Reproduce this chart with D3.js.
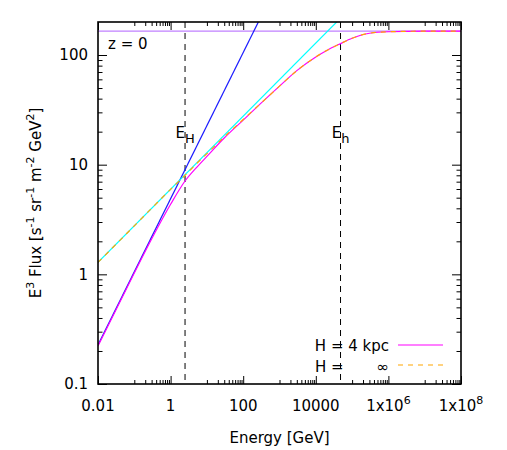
<!DOCTYPE html>
<html lang="en">
<head>
<meta charset="UTF-8">
<title>E3 Flux vs Energy</title>
<style>
  body { margin: 0; background: #fff; }
  svg { display: block; font-family: "DejaVu Sans", sans-serif; font-size: 15px; }
  .frame { fill: none; stroke: #000; stroke-width: 1.6; }
  .curve { fill: none; stroke-width: 1.2; }
  .tick line { stroke: #000; stroke-width: 1; }
</style>
</head>
<body>
<svg id="chart" width="507" height="450"></svg>
<script src="https://cdn.jsdelivr.net/npm/d3@7"></script>
<script>
// tick labels
const xTicks = [0.01, 1, 100, 10000, 1e6, 1e8]
const xTickLabels = ['0.01', '1', '100', '10000', '1x10^6', '1x10^8']
const yTicks = [0.1, 1, 10, 100]
const yTickLabels = ['0.1', '1', '10', '100']

// straight power laws (E^2/3 and E^1/3) and the flat level
const steepE = [0.01, 1000]
const steepFlux = [0.227, 489]
const shallowE = [0.01, 1e5]
const shallowFlux = [1.285, 277]
const flatE = [0.01, 1e8]
const flatFlux = [165, 165]

// H = 4 kpc and H = infinity curves
const energy = [0.01, 0.1, 0.3, 1, 2.5, 5, 10, 30, 100, 300, 1000, 3000, 1e4, 2e4, 4.8e4, 1e5, 3e5, 1e6, 1e7, 1e8]
const fluxH4 = [0.222, 1.03, 2.1, 4.35, 7.1, 9.3, 11.9, 17.5, 25.5, 36, 52, 72, 96, 110, 127, 142, 158, 163, 165, 165]
const fluxHinf = [1.285, 2.77, 4.0, 5.96, 8.0, 10.1, 12.6, 17.9, 25.8, 36, 52, 72, 96, 110, 127, 142, 158, 163, 165, 165]

// break energies
const breakE = [2.5, 4.8e4]
const breakSub = ['H', 'h']

const pl = 98, pr = 461, pt = 22, pb = 384
const svg = d3.select('#chart')

let x = d3.scaleLog().domain([0.01, 1e8]).range([pl, pr])
let y = d3.scaleLog().domain([0.1, 200]).range([pb, pt])

svg.append('defs').append('clipPath').attr('id', 'plot')
  .append('rect').attr('x', pl).attr('y', pt).attr('width', pr - pl).attr('height', pb - pt)

// minor ticks
let xMinor = []
for (let d of [0.1, 10, 1000, 1e5, 1e7]) for (let k = 1; k <= 9; k++) xMinor.push(k * d)
let yMinor = []
for (let d of [0.1, 1, 10, 100]) for (let k = 2; k <= 9; k++) if (k * d < 200) yMinor.push(k * d)

function ticks (axis, tx, ty, vals, size) {
  let g = svg.append('g').attr('transform', `translate(${tx},${ty})`)
    .call(axis.tickValues(vals).tickSize(size).tickFormat(''))
  g.select('.domain').remove()
  g.selectAll('text').remove()
}
ticks(d3.axisBottom(x), 0, pb, xTicks, -8)
ticks(d3.axisBottom(x), 0, pb, xMinor, -4)
ticks(d3.axisTop(x), 0, pt, xTicks, -8)
ticks(d3.axisTop(x), 0, pt, xMinor, -4)
ticks(d3.axisLeft(y), pl, 0, yTicks, -9)
ticks(d3.axisLeft(y), pl, 0, yMinor, -4.5)
ticks(d3.axisRight(y), pr, 0, yTicks, -9)
ticks(d3.axisRight(y), pr, 0, yMinor, -4.5)

// tick labels
function label (sel, txt) {
  let parts = txt.split('^')
  sel.append('tspan').text(parts[0])
  if (parts[1]) sel.append('tspan').attr('font-size', 11).attr('dy', -7).text(parts[1])
}
xTicks.forEach((v, i) => {
  let t = svg.append('text').attr('x', x(v)).attr('y', 411).attr('text-anchor', 'middle')
  label(t, xTickLabels[i])
})
yTicks.forEach((v, i) => {
  svg.append('text').attr('x', 88).attr('y', y(v)).attr('dy', '0.36em')
    .attr('text-anchor', 'end').text(yTickLabels[i])
})

// axis titles
svg.append('text').attr('x', (pl + pr) / 2).attr('y', 443).attr('text-anchor', 'middle').text('Energy [GeV]')
let yl = svg.append('text').attr('transform', `translate(41,${(pt + pb) / 2}) rotate(-90)`)
  .attr('text-anchor', 'middle')
;[['E'], ['3', 1], [' Flux [s'], ['-1', 1], [' sr'], ['-1', 1], [' m'], ['-2', 1], [' GeV'], ['2', 1], [']']]
  .forEach((p, i, arr) => {
    let ts = yl.append('tspan').text(p[0])
    if (p[1]) ts.attr('font-size', 11).attr('dy', -7)
    else if (i > 0 && arr[i - 1][1]) ts.attr('dy', 7)
  })

let plot = svg.append('g').attr('clip-path', 'url(#plot)')

// break lines
breakE.forEach((e, i) => {
  plot.append('line').attr('x1', x(e)).attr('x2', x(e)).attr('y1', pt).attr('y2', pb)
    .attr('stroke', '#000').attr('stroke-width', 1).attr('stroke-dasharray', '6,5')
  let t = svg.append('text').attr('x', x(e)).attr('y', 138).attr('text-anchor', 'middle')
  t.append('tspan').text('E')
  t.append('tspan').attr('font-size', 13).attr('dy', 5).text(breakSub[i])
})

let line = d3.line().x(d => x(d[0])).y(d => y(d[1])).curve(d3.curveMonotoneX)
function draw (es, fs, color, dash) {
  let p = plot.append('path').attr('class', 'curve')
    .attr('d', line(es.map((e, i) => [e, fs[i]])))
    .attr('stroke', color)
  if (dash) p.attr('stroke-dasharray', dash)
}
draw(flatE, flatFlux, '#c080ff')
draw(steepE, steepFlux, '#1a1aff')
draw(shallowE, shallowFlux, '#00ffff')
draw(energy, fluxH4, '#ff00ff')
draw(energy, fluxHinf, '#ffa500', '5,5')

svg.append('rect').attr('class', 'frame')
  .attr('x', pl).attr('y', pt).attr('width', pr - pl).attr('height', pb - pt)

svg.append('text').attr('x', 108).attr('y', 49).text('z = 0')

// legend
svg.append('text').attr('x', 389).attr('y', 351).attr('text-anchor', 'end').text('H = 4 kpc')
svg.append('line').attr('x1', 398).attr('x2', 443).attr('y1', 345).attr('y2', 345)
  .attr('stroke', '#ff00ff').attr('stroke-width', 1.2)
svg.append('text').attr('x', 315).attr('y', 371.5).text('H =')
svg.append('text').attr('x', 389).attr('y', 371.5).attr('text-anchor', 'end').text('∞')
svg.append('line').attr('x1', 398).attr('x2', 443).attr('y1', 365).attr('y2', 365)
  .attr('stroke', '#ffa500').attr('stroke-width', 1.2).attr('stroke-dasharray', '5,5')
</script>
</body>
</html>
